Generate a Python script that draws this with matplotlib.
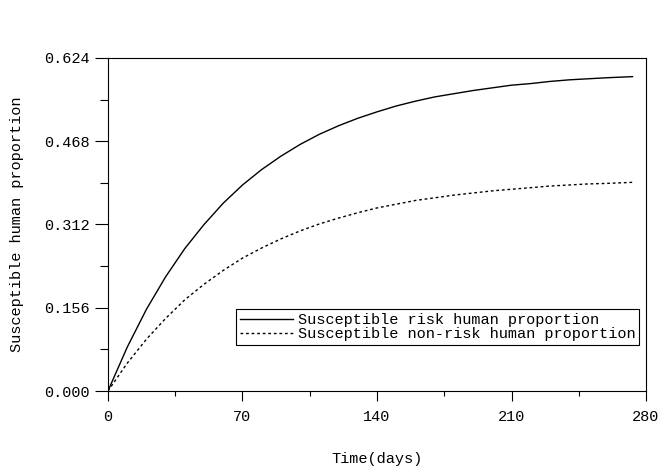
#import required modules
import matplotlib
matplotlib.use('Agg')
import matplotlib.pyplot as plt
from matplotlib.ticker import MultipleLocator

#data
t_days = [0, 10, 20, 30, 40, 50, 60, 70, 80, 90, 100, 110, 120, 130, 140,
          150, 160, 170, 180, 190, 200, 210, 220, 230, 240, 250, 260, 273]
risk_prop = [0.000, 0.082, 0.153, 0.214, 0.267, 0.312, 0.352, 0.386, 0.415,
             0.440, 0.462, 0.481, 0.497, 0.511, 0.523, 0.534, 0.543, 0.551,
             0.557, 0.563, 0.568, 0.573, 0.576, 0.580, 0.583, 0.585, 0.587, 0.589]
nonrisk_prop = [0.000, 0.052, 0.097, 0.136, 0.171, 0.200, 0.226, 0.249, 0.268,
                0.285, 0.300, 0.313, 0.324, 0.334, 0.343, 0.350, 0.357, 0.362,
                0.367, 0.371, 0.375, 0.378, 0.381, 0.384, 0.386, 0.388, 0.389, 0.391]
y_ticks = [0.000, 0.156, 0.312, 0.468, 0.624]
x_ticks = [0, 70, 140, 210, 280]

plt.rcParams['font.family'] = ['Liberation Mono', 'DejaVu Sans Mono']
plt.rcParams['font.size'] = 11

fig = plt.figure(figsize=(6.6, 4.72), dpi=100)
ax = fig.add_axes([0.1636, 0.1716, 0.8152, 0.7056])

ax.plot(t_days, risk_prop, color='black', lw=1.0, label='Susceptible risk human proportion')
ax.plot(t_days, nonrisk_prop, color='black', lw=1.0, linestyle=(0, (2, 2)),
        label='Susceptible non-risk human proportion')

#axis limits and ticks
ax.set_xlim(0, 280)
ax.set_ylim(0, 0.624)
ax.set_xticks(x_ticks)
ax.set_yticks(y_ticks)
ax.set_yticklabels(['%.3f' % v for v in y_ticks])
ax.xaxis.set_minor_locator(MultipleLocator(35))
ax.yaxis.set_minor_locator(MultipleLocator(0.078))
ax.tick_params(axis='y', which='major', direction='out', length=9.4, width=0.8, pad=4)
ax.tick_params(axis='y', which='minor', direction='out', length=5.8, width=0.8)
ax.tick_params(axis='x', which='major', direction='out', length=7.5, width=0.8, pad=6)
ax.tick_params(axis='x', which='minor', direction='out', length=3.8, width=0.8)
for s in ax.spines.values():
    s.set_linewidth(0.8)

ax.set_xlabel('Time(days)', labelpad=20)
ax.set_ylabel('Susceptible human proportion', labelpad=14)

leg = ax.legend(loc='lower right', bbox_to_anchor=(0.987, 0.138), fancybox=False,
                edgecolor='black', framealpha=1, borderpad=0.25, labelspacing=0.0,
                handlelength=3.5, handletextpad=0.3, borderaxespad=0)
leg.get_frame().set_linewidth(0.8)

plt.savefig('out.png', dpi=100)
